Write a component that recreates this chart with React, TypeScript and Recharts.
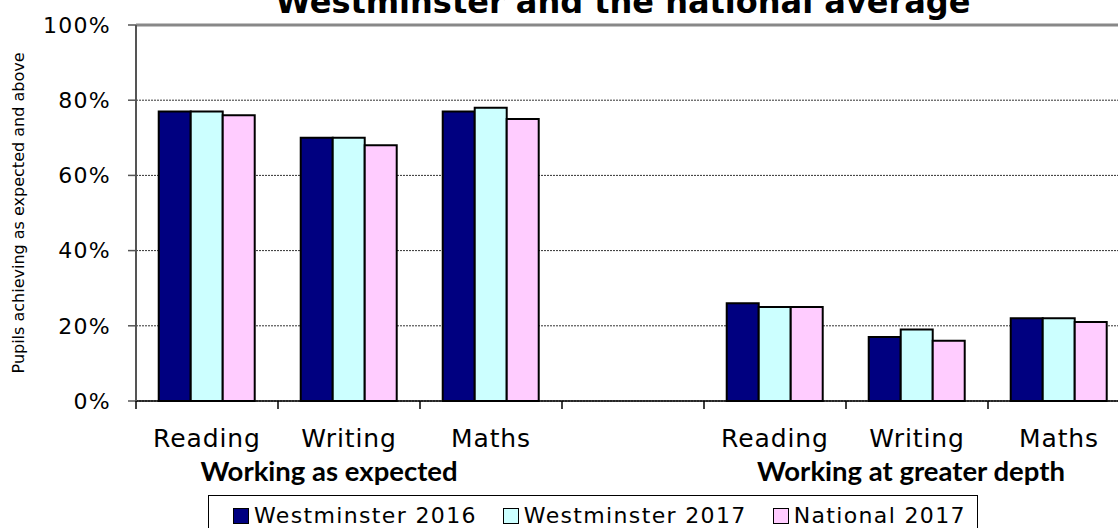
import { BarChart, Bar, XAxis, YAxis, CartesianGrid, Legend, ReferenceLine } from 'recharts';

const categories = ['Reading', 'Writing', 'Maths', '', 'Reading', 'Writing', 'Maths'];
const westminster2016 = [77, 70, 77, 0, 26, 17, 22];
const westminster2017 = [77, 70, 78, 0, 25, 19, 22];
const national2017 = [76, 68, 75, 0, 25, 16, 21];
const seriesNames = ['Westminster 2016', 'Westminster 2017', 'National 2017'];
const groupLabels = ['Working as expected', 'Working at greater depth'];
const groupAt = [1, 5];
const yTicks = [0, 20, 40, 60, 80, 100];

const chartData = categories.map((name, i) => ({
  key: `c${i}`,
  name,
  w2016: name === '' ? null : westminster2016[i],
  w2017: name === '' ? null : westminster2017[i],
  n2017: name === '' ? null : national2017[i],
}));

const VERDANA = 'Verdana, "DejaVu Sans", sans-serif';

const CHART_W = 1140;
const MARGIN = { top: 25, right: 10, bottom: 0, left: 0 };
const Y_W = 136;
const BAND = (CHART_W - MARGIN.left - MARGIN.right - Y_W) / categories.length;

const CategoryTick = (props: any) => {
  const { x, y, index } = props;
  const g = groupAt.indexOf(index);
  const left = x - BAND / 2;
  return (
    <g>
      <line x1={left} y1={y} x2={left} y2={y + 8} stroke="#000" strokeWidth={1.5} />
      {index === categories.length - 1 && (
        <line x1={left + BAND} y1={y} x2={left + BAND} y2={y + 8} stroke="#000" strokeWidth={1.5} />
      )}
      <text x={x} y={y + 46} textAnchor="middle" fontFamily={VERDANA} fontSize={25} letterSpacing={0.9} fill="#000">
        {categories[index]}
      </text>
      {g >= 0 && (
        <text
          x={x + (g === 0 ? -20 : -6)}
          y={y + 80}
          textAnchor="middle"
          fontFamily="Lato, sans-serif"
          fontWeight="bold"
          fontSize={27.5}
          fill="#000"
        >
          {groupLabels[g]}
        </text>
      )}
    </g>
  );
};

const LegendBox = (props: any) => {
  const items = [...(props.payload || [])].sort(
    (a: any, b: any) => seriesNames.indexOf(a.value) - seriesNames.indexOf(b.value)
  );
  return (
    <div
      style={{
        border: '1px solid #000',
        width: 770,
        height: 40,
        boxSizing: 'border-box',
        display: 'flex',
        flexWrap: 'nowrap',
        alignItems: 'flex-start',
        paddingLeft: 24,
        paddingTop: 9,
        background: '#fff',
        overflow: 'visible',
      }}
    >
      {items.map((p: any, i: number) => (
        <div key={i} style={{ display: 'flex', flexShrink: 0, alignItems: 'center', marginRight: i < items.length - 1 ? 26 : 0 }}>
          <span
            style={{
              display: 'inline-block',
              flexShrink: 0,
              width: 14,
              height: 14,
              background: p.color,
              border: '1.5px solid #000',
              marginRight: 5,
            }}
          />
          <span
            style={{
              fontFamily: VERDANA,
              fontSize: 22,
              letterSpacing: 1.35,
              color: '#000',
              lineHeight: '22px',
              whiteSpace: 'nowrap',
            }}
          >
            {p.value}
          </span>
        </div>
      ))}
    </div>
  );
};

export default function App() {
  return (
    <div style={{ position: 'absolute', left: 0, top: 0, width: 1118, height: 528, overflow: 'hidden', background: '#fff' }}>
      <div
        style={{
          position: 'absolute',
          left: 623,
          top: -18,
          transform: 'translateX(-50%)',
          whiteSpace: 'nowrap',
          fontFamily: VERDANA,
          fontWeight: 'bold',
          fontSize: 32,
          lineHeight: '40px',
          color: '#000',
          zIndex: 2,
        }}
      >
        Westminster and the national average
      </div>
      <BarChart
        width={CHART_W}
        height={528}
        data={chartData}
        margin={MARGIN}
        barCategoryGap="16%"
        barGap={0}
      >
        <CartesianGrid horizontal vertical={false} stroke="#333" strokeDasharray="2 1" strokeWidth={1} />
        <XAxis
          dataKey="key"
          interval={0}
          height={127}
          tickSize={0}
          tickMargin={0}
          tickLine={false}
          axisLine={{ stroke: '#000', strokeWidth: 1.5 }}
          tick={<CategoryTick />}
        />
        <YAxis
          domain={[0, 100]}
          ticks={yTicks}
          width={Y_W}
          tickSize={8}
          tickMargin={17}
          tickFormatter={(v: number) => `${v}%`}
          tick={{ fontFamily: VERDANA, fontSize: 22, fill: '#000', letterSpacing: 1.3 }}
          axisLine={{ stroke: '#555', strokeWidth: 2 }}
          tickLine={{ stroke: '#555', strokeWidth: 1.5 }}
          label={{
            value: 'Pupils achieving as expected and above',
            angle: -90,
            position: 'insideLeft',
            offset: 18,
            style: { textAnchor: 'middle', fontFamily: VERDANA, fontSize: 16, fill: '#000' },
          }}
        />
        <ReferenceLine y={100} stroke="#888" strokeWidth={3} />
        <Legend
          layout="horizontal"
          verticalAlign="middle"
          align="center"
          wrapperStyle={{ left: 208, top: 495, width: 770, height: 40 }}
          content={<LegendBox />}
        />
        <Bar dataKey="w2016" name={seriesNames[0]} fill="#000080" stroke="#000" strokeWidth={2} isAnimationActive={false} />
        <Bar dataKey="w2017" name={seriesNames[1]} fill="#CCFFFF" stroke="#000" strokeWidth={2} isAnimationActive={false} />
        <Bar dataKey="n2017" name={seriesNames[2]} fill="#FFCCFF" stroke="#000" strokeWidth={2} isAnimationActive={false} />
      </BarChart>
    </div>
  );
}
